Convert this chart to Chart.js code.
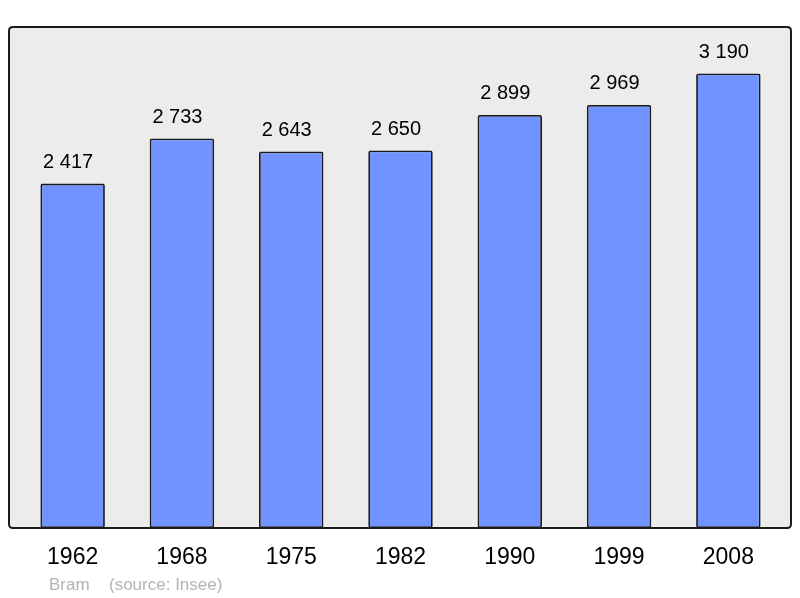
<!DOCTYPE html>
<html><head><meta charset="utf-8">
<script src="https://cdn.jsdelivr.net/npm/chart.js@4"></script>
<style>html,body{margin:0;padding:0;background:#fff}#wrap{width:800px;height:598px}</style>
</head><body><div id="wrap"><canvas id="c" width="800" height="598"></canvas></div>
<script>
const categories = ["1962","1968","1975","1982","1990","1999","2008"];
const population = [2417,2733,2643,2650,2899,2969,3190];
const valueLabels = ["2 417","2 733","2 643","2 650","2 899","2 969","3 190"];
const footerAuthor = "Bram";
const footerSource = "(source: Insee)";

function roundRect(ctx,x,y,w,h,r){ctx.beginPath();ctx.moveTo(x+r,y);ctx.lineTo(x+w-r,y);ctx.quadraticCurveTo(x+w,y,x+w,y+r);ctx.lineTo(x+w,y+h-r);ctx.quadraticCurveTo(x+w,y+h,x+w-r,y+h);ctx.lineTo(x+r,y+h);ctx.quadraticCurveTo(x,y+h,x,y+h-r);ctx.lineTo(x,y+r);ctx.quadraticCurveTo(x,y,x+r,y);ctx.closePath();}

const framePlugin = {
  id:'frame',
  beforeDatasetsDraw(chart){
    const {ctx,chartArea:a}=chart;
    ctx.save();
    roundRect(ctx,a.left-9,a.top,a.right-a.left+17,a.bottom-a.top,4);
    ctx.fillStyle='#ececec';ctx.fill();
    ctx.restore();
  },
  afterDatasetsDraw(chart){
    const {ctx,chartArea:a}=chart;
    ctx.save();
    roundRect(ctx,a.left-9,a.top,a.right-a.left+17,a.bottom-a.top,4);
    ctx.lineWidth=2;ctx.strokeStyle='#1a1a1a';ctx.stroke();
    const meta=chart.getDatasetMeta(0);
    ctx.fillStyle='#000';ctx.font='20px "Liberation Sans", Arial, sans-serif';
    ctx.textAlign='center';ctx.textBaseline='middle';
    meta.data.forEach((bar,i)=>{ctx.fillText(valueLabels[i],bar.x-4.5,bar.y-21);});
    ctx.fillStyle='#b3b3b3';ctx.font='17px "Liberation Sans", Arial, sans-serif';
    ctx.textAlign='left';
    ctx.fillText(footerAuthor,49,585);
    ctx.fillText(footerSource,109,585);
    ctx.restore();
  }
};

new Chart(document.getElementById('c'),{
  type:'bar',
  data:{labels:categories,datasets:[{data:population,backgroundColor:'#7093ff',borderColor:'#1a1a1a',borderWidth:1.8,borderRadius:2,borderSkipped:false,barPercentage:0.59,categoryPercentage:1}]},
  options:{
    responsive:false,animation:false,
    layout:{padding:{left:18,right:17,top:27,bottom:0}},
    plugins:{legend:{display:false},tooltip:{enabled:false}},
    scales:{
      x:{grid:{display:false,drawTicks:false},border:{display:false},
         ticks:{color:'#000',font:{family:'"Liberation Sans", Arial, sans-serif',size:23},padding:16},
         afterFit(s){s.height=70;}},
      y:{display:false,min:0,max:3516}
    }
  },
  plugins:[framePlugin]
});
</script></body></html>
